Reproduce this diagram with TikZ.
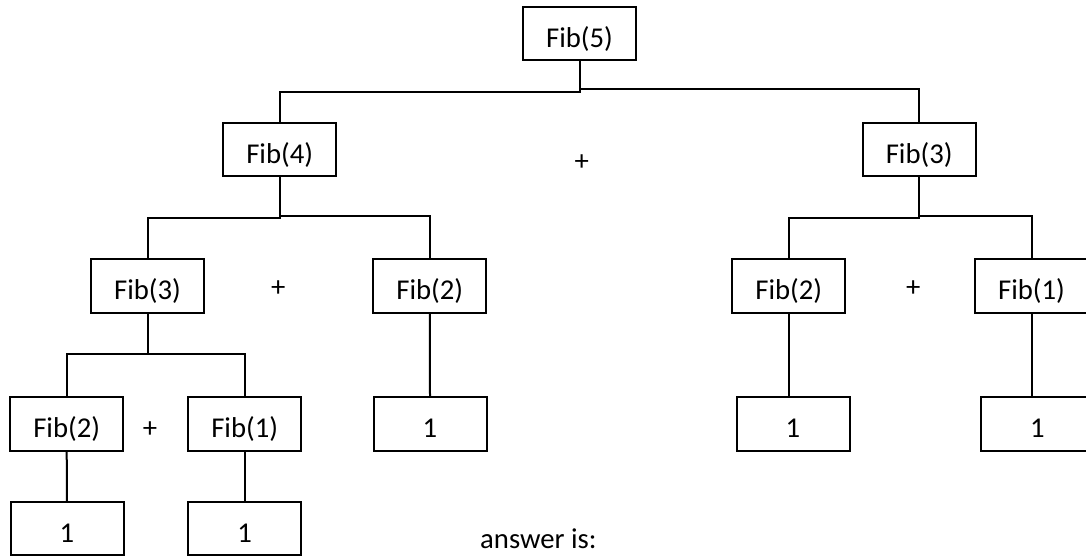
\documentclass[tikz,border=0pt]{standalone}
\usepackage{fontspec}
\setmainfont{Carlito}
\begin{document}
\begin{tikzpicture}[x=1pt,y=-1pt,
  txt/.style={font=\fontsize{28.7pt}{34pt}\selectfont, inner sep=0pt},
  box/.style={txt, draw, line width=2pt, minimum width=113pt, minimum height=53.3pt, text height=27.3pt, text depth=0pt},
  conn/.style={line width=2pt}]
\useasboundingbox (0,0) rectangle (1086,556);
% level 0
\node[box] (f5) at (579.5,33.5) {Fib(5)};
% level 1
\node[box] (f4) at (279.7,149.7) {Fib(4)};
\node[box] (f3r) at (919.2,149.7) {Fib(3)};
% level 2
\node[box] (f3l) at (147.5,286) {Fib(3)};
\node[box] (f2m) at (429.8,286) {Fib(2)};
\node[box] (f2r) at (788.8,286) {Fib(2)};
\node[box] (f1r) at (1031.5,286) {Fib(1)};
% level 3
\node[box] (f2l) at (66.7,424) {Fib(2)};
\node[box] (f1l) at (244.7,424) {Fib(1)};
\node[box] (onem) at (430,424) {1};
\node[box] (oner) at (793,424) {1};
\node[box] (onerr) at (1037.5,424) {1};
% level 4
\node[box] (onel) at (67,528.7) {1};
\node[box] (onel2) at (244.7,528.7) {1};
% plus signs
\node[txt] (p1) at (581.7,163) {+};
\node[txt] (p2) at (278.3,289) {+};
\node[txt] (p3) at (913.3,288.3) {+};
\node[txt] (p4) at (150,430) {+};
\node[txt, anchor=base west] (ans) at (480,548.3) {answer is:};
% junctions
\coordinate (j5l) at (579.5,92);
\coordinate (j5r) at (579.5,89.3);
\coordinate (j4l) at (279.7,218);
\coordinate (j4r) at (279.7,215.7);
\coordinate (j3l) at (919.2,218);
\coordinate (j3r) at (919.2,215.7);
\coordinate (j3b) at (147.5,354.3);
% connectors
\draw[conn] (f5.south) -- (j5l) -| (f4.north);
\draw[conn] (j5r) -| (f3r.north);
\draw[conn] (f4.south) -- (j4l) -| (f3l.north);
\draw[conn] (j4r) -| (f2m.north);
\draw[conn] (f3r.south) -- (j3l) -| (f2r.north);
\draw[conn] (j3r) -| (f1r.north);
\draw[conn] (f3l.south) -- (j3b) -| (f2l.north);
\draw[conn] (j3b) -| (f1l.north);
\draw[conn] (f2m.south) -- (onem.north);
\draw[conn] (f2r.south) -- (f2r.south |- oner.north);
\draw[conn] (f1r.south) -- (f1r.south |- onerr.north);
\draw[conn] (f2l.south) -- (onel.north);
\draw[conn] (f1l.south) -- (onel2.north);
\end{tikzpicture}
\end{document}
